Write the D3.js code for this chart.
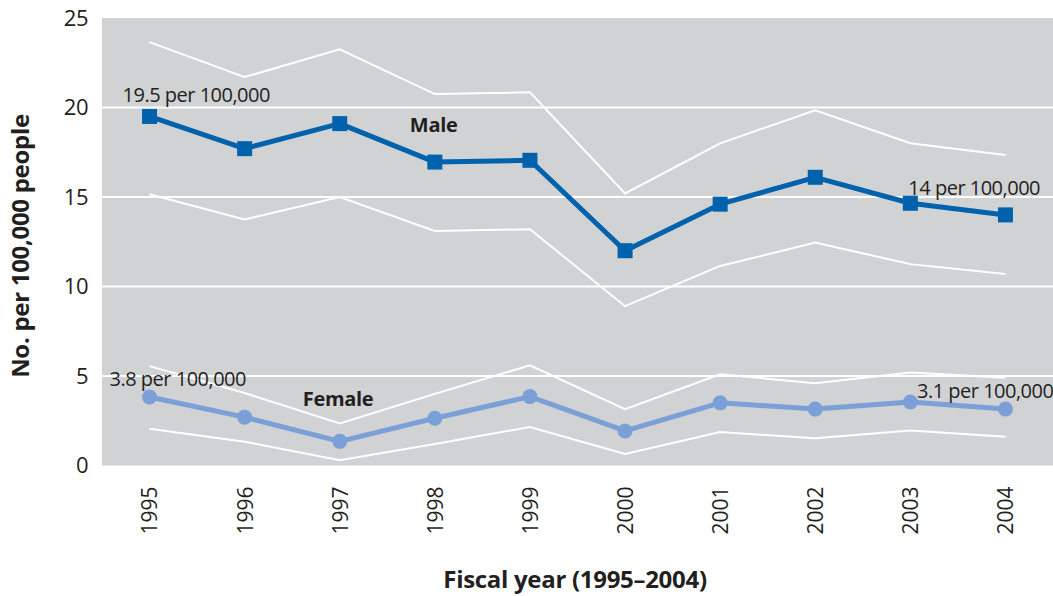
<!DOCTYPE html>
<html><head><meta charset="utf-8">
<script src="https://cdn.jsdelivr.net/npm/d3@7"></script>
<style>
body{margin:0;background:#fff;}
text{font-family:"Open Sans","Noto Sans",sans-serif;fill:#231f20;}
</style></head>
<body><svg id="c" width="1053" height="596"></svg>
<script>
const years = [1995,1996,1997,1998,1999,2000,2001,2002,2003,2004];
const male = [19.5,17.7,19.1,16.95,17.05,12.0,14.6,16.1,14.65,14.0];
const maleUpper = [23.65,21.7,23.25,20.75,20.85,15.2,18.0,19.85,18.0,17.35];
const maleLower = [15.15,13.75,15.0,13.1,13.2,8.9,11.15,12.45,11.25,10.7];
const female = [3.83,2.7,1.35,2.64,3.85,1.93,3.5,3.15,3.55,3.15];
const femaleUpper = [5.55,4.05,2.35,4.0,5.6,3.15,5.1,4.6,5.2,4.9];
const femaleLower = [2.05,1.33,0.3,1.2,2.15,0.65,1.87,1.52,1.95,1.6];
const yTicks = [0,5,10,15,20,25];

const svg = d3.select("#c");
const L=102, R=1053, T=18, B=465.5;
const x = d3.scalePoint().domain(years).range([L,R]).padding(0.5);
const y = d3.scaleLinear().domain([0,25]).range([B,T]);

svg.append("rect").attr("x",L).attr("y",T).attr("width",R-L).attr("height",B-T).attr("fill","#d1d2d4");

svg.selectAll("line.grid").data(yTicks.filter(d=>d>0&&d<25)).enter().append("line")
  .attr("x1",L).attr("x2",R).attr("y1",d=>y(d)).attr("y2",d=>y(d))
  .attr("stroke","#fff").attr("stroke-width",2);

// y axis labels
const yAxis = d3.axisLeft(y).tickValues(yTicks).tickSize(0).tickPadding(14);
const ga = svg.append("g").attr("transform",`translate(${L},0)`).call(yAxis);
ga.select(".domain").remove();
ga.selectAll("text").style("font-size","22px").attr("fill","#231f20").style("font-family","'Open Sans',sans-serif").style("letter-spacing","-0.5px");

// x axis labels
const xAxis = d3.axisBottom(x).tickSize(0).tickPadding(0);
const gx = svg.append("g").attr("transform",`translate(0,${B})`).call(xAxis);
gx.select(".domain").remove();
gx.selectAll("text").style("font-size","21px").attr("fill","#231f20").style("font-family","'Open Sans',sans-serif")
  .attr("transform","rotate(-90)").attr("text-anchor","end").attr("x",-21).attr("y",0).attr("dy","0.35em");

const line = d3.line().x((d,i)=>x(years[i])).y(d=>y(d));
[maleUpper,maleLower,femaleUpper,femaleLower].forEach(s=>{
  svg.append("path").attr("d",line(s)).attr("fill","none").attr("stroke","#fff").attr("stroke-width",2);
});

svg.append("path").attr("d",line(male)).attr("fill","none").attr("stroke","#0062ad").attr("stroke-width",5).attr("stroke-linejoin","round");
svg.selectAll("rect.m").data(male).enter().append("rect")
  .attr("x",(d,i)=>x(years[i])-7.5).attr("y",d=>y(d)-7.5).attr("width",15).attr("height",15).attr("fill","#0062ad");

svg.append("path").attr("d",line(female)).attr("fill","none").attr("stroke","#7aa0d7").attr("stroke-width",5).attr("stroke-linejoin","round");
svg.selectAll("circle.f").data(female).enter().append("circle")
  .attr("cx",(d,i)=>x(years[i])).attr("cy",d=>y(d)).attr("r",7.5).attr("fill","#7aa0d7");

function lab(t,xx,yy,bold,anchor){
  svg.append("text").attr("x",xx).attr("y",yy).text(t)
    .style("font-size", "20px").style("font-weight",bold?"700":"400")
    .style("letter-spacing", bold?"-0.3px":"-0.5px")
    .attr("text-anchor",anchor||"start");
}
lab("19.5 per 100,000", x(1995)-27, y(male[0])-14);
lab("Male", x(1998)-25, y(17.05)-28, true);
lab("14 per 100,000", x(2003)-2, y(male[9])-20);
lab("3.8 per 100,000", x(1995)-40, y(female[0])-11);
lab("Female", x(1997)-37, y(2.3)-18, true);
lab("3.1 per 100,000", x(2004)+48, y(female[9])-11, false, "end");

svg.append("text").attr("transform",`translate(29,246) rotate(-90)`).attr("text-anchor","middle")
  .style("font-size","24px").style("font-weight","700").style("letter-spacing","-0.3px").text("No. per 100,000 people");
svg.append("text").attr("x",575).attr("y",588).attr("text-anchor","middle")
  .style("font-size","24px").style("font-weight","700").style("letter-spacing","-0.3px").text("Fiscal year (1995–2004)");
</script></body></html>
